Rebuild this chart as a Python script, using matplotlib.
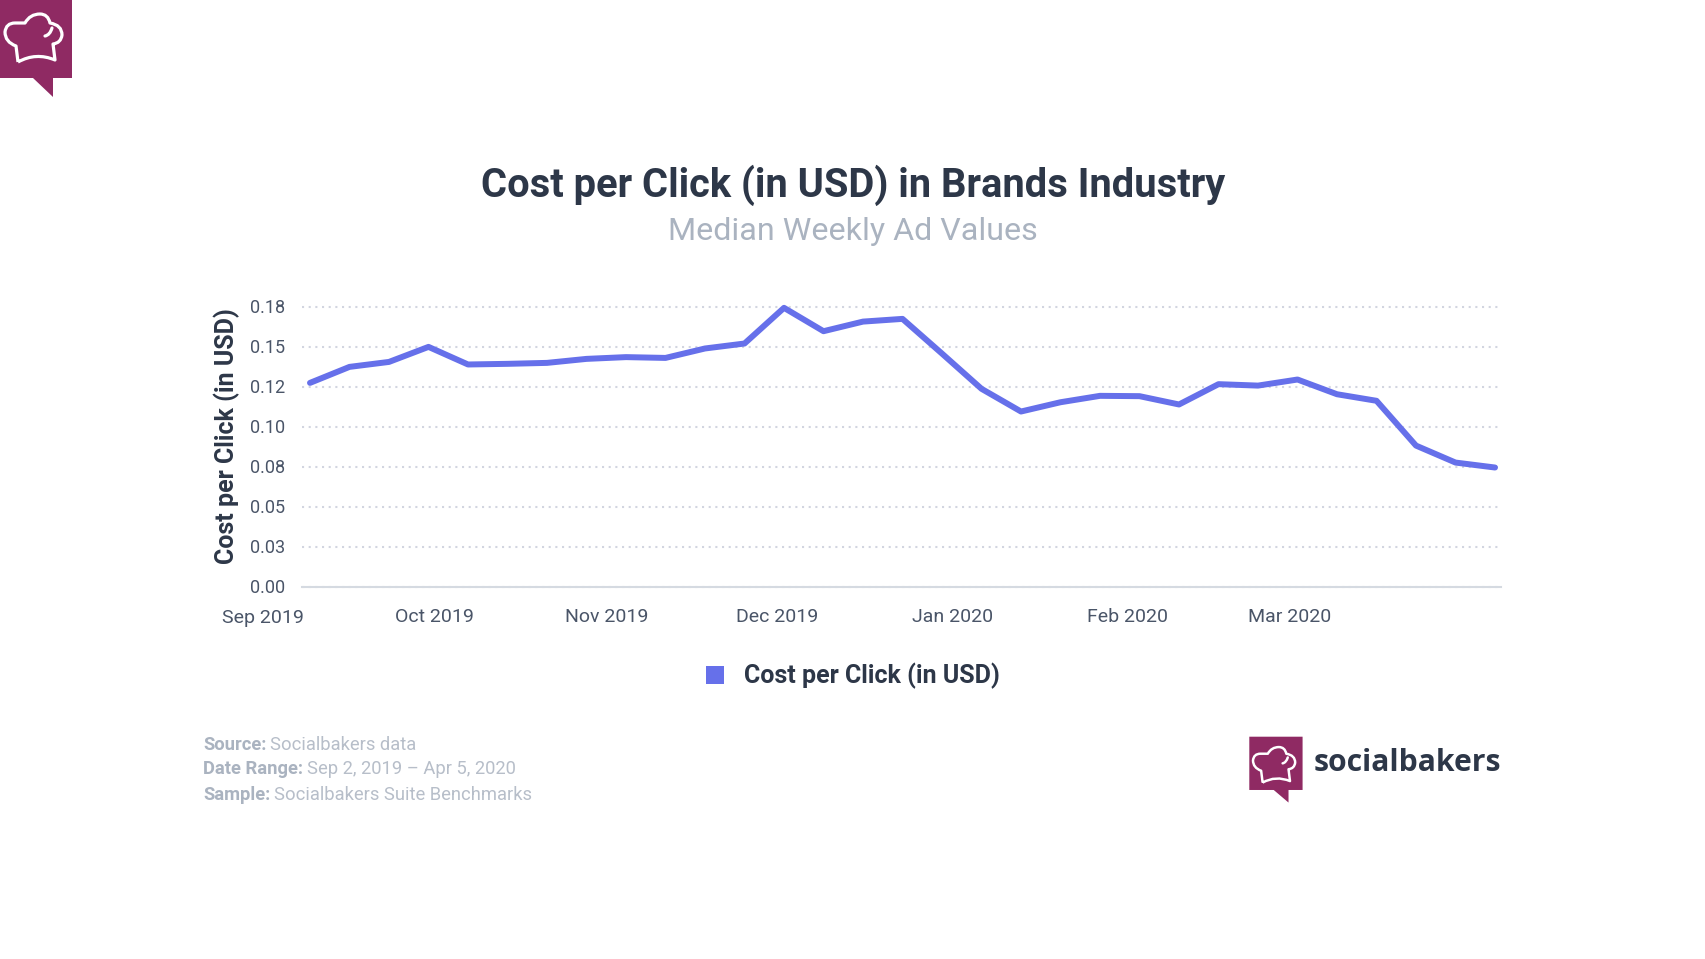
import pandas as pd
import matplotlib
matplotlib.use('Agg')
import matplotlib.pyplot as plt
import matplotlib.dates as mdates
from matplotlib.path import Path
from matplotlib.patches import Patch, PathPatch, Polygon
from matplotlib.transforms import ScaledTranslation

weeks = ['2019-09-02', '2019-09-09', '2019-09-16', '2019-09-23', '2019-09-30', '2019-10-07', '2019-10-14',
         '2019-10-21', '2019-10-28', '2019-11-04', '2019-11-11', '2019-11-18', '2019-11-25', '2019-12-02',
         '2019-12-09', '2019-12-16', '2019-12-23', '2019-12-30', '2020-01-06', '2020-01-13', '2020-01-20',
         '2020-01-27', '2020-02-03', '2020-02-10', '2020-02-17', '2020-02-24', '2020-03-02', '2020-03-09',
         '2020-03-16', '2020-03-23', '2020-03-30']
cpc = [.1277, .1377, .1408, .1502, .1392, .1396, .1402, .1427, .1438, .1433,
       .1492, .1523, .1746, .1600, .1660, .1677, .1460, .1240, .1098, .1156, .1196,
       .1194, .1142, .1269, .1260, .1298, .1206, .1165, .0885, .0779, .0748]
month_starts = ['2019-09-01', '2019-10-01', '2019-11-01', '2019-12-01', '2020-01-01', '2020-02-01', '2020-03-01']
y_ticks = [0, 0.025, 0.05, 0.075, 0.1, 0.125, 0.15, 0.175]
y_labels = ['0.00', '0.03', '0.05', '0.08', '0.10', '0.12', '0.15', '0.18']

W, H = 1706, 959
DARK = '#2d3748'
TICK = '#4a5568'
GREY = '#aab3c0'
BLUE = '#6670ea'
PLUM = '#8f2a63'

plt.rcParams['font.family'] = ['Roboto', 'DejaVu Sans']

fig = plt.figure(figsize=(W / 100, H / 100), dpi=100)


def fx(x):
    return x / W


def fy(y):
    return 1 - y / H


def logo(x0, y0, s, body=78, tip=97):
    # speech bubble with the chef hat, s is relative to the big one
    X = lambda v: fx(x0 + v * s)
    Y = lambda v: fy(y0 + v * s)
    pts = [(0, 0), (72, 0), (72, body), (53, body), (53, tip), (33, body), (0, body)]
    fig.add_artist(Polygon([(X(a), Y(b)) for a, b in pts], closed=True, transform=fig.transFigure,
                           facecolor=PLUM, edgecolor='none'))
    hat = [(Path.MOVETO, (18, 62)), (Path.LINETO, (16, 46)),
           (Path.CURVE3, (5, 42)), (Path.CURVE3, (5, 32)),
           (Path.CURVE3, (6, 23)), (Path.CURVE3, (15, 23)),
           (Path.LINETO, (25, 23)),
           (Path.CURVE3, (30, 14)), (Path.CURVE3, (40, 14)),
           (Path.CURVE3, (48, 14)), (Path.CURVE3, (50, 23)),
           (Path.CURVE3, (62, 25)), (Path.CURVE3, (62, 35)),
           (Path.CURVE3, (61, 43)), (Path.CURVE3, (53, 44)),
           (Path.LINETO, (55, 60)),
           (Path.CURVE3, (36, 52)), (Path.CURVE3, (18, 62))]
    codes = [c for c, _ in hat]
    verts = [(X(a), Y(b)) for _, (a, b) in hat]
    fig.add_artist(PathPatch(Path(verts, codes), transform=fig.transFigure, facecolor='none',
                             edgecolor='white', lw=2.0 * s + 0.3, joinstyle='round'))
    fig.add_artist(PathPatch(Path([(X(45), Y(36)), (X(50), Y(35)), (X(52), Y(28))],
                                  [Path.MOVETO, Path.CURVE3, Path.CURVE3]),
                             transform=fig.transFigure, facecolor='none', edgecolor='white',
                             lw=2.0 * s + 0.3, capstyle='round'))


ax = fig.add_axes([fx(302.5), fy(587.2), fx(1501.5 - 302.5), fy(307.2) - fy(587.2)])
dates = pd.to_datetime(weeks)
ax.plot(dates, cpc, color=BLUE, lw=4.3, solid_capstyle='round', solid_joinstyle='round',
        clip_on=False, zorder=3, label='Cost per Click (in USD)')

ax.set_xlim(dates[0] - pd.Timedelta(days=1.33), dates[-1] + pd.Timedelta(days=1.15))
ax.set_ylim(0, 0.175)
ax.set_yticks(y_ticks, y_labels)
ax.set_xticks(pd.to_datetime(month_starts))
ax.xaxis.set_major_formatter(mdates.DateFormatter('%b %Y'))
ax.tick_params(axis='y', length=0, pad=12.5, labelsize=13, labelcolor=TICK)
ax.tick_params(axis='x', length=0, pad=15.3, labelsize=14, labelcolor=TICK)
for lab in ax.get_xticklabels():
    lab.set_ha('right')
# the first month label sits a pixel lower, the y labels a pixel above their grid lines
first = ax.get_xticklabels()[0]
first.set_transform(first.get_transform() + ScaledTranslation(0, -1 / 100, fig.dpi_scale_trans))
for lab in ax.get_yticklabels():
    lab.set_transform(lab.get_transform() + ScaledTranslation(0, 1.2 / 100, fig.dpi_scale_trans))
ax.yaxis.grid(True, color='#d2d5e0', lw=1.5, linestyle=(0, (1, 2.2)), clip_on=False)
ax.set_axisbelow(True)
for side in ['top', 'left', 'right']:
    ax.spines[side].set_visible(False)
ax.spines['bottom'].set_color('#d5dae1')
ax.spines['bottom'].set_linewidth(1.5)

fig.text(0.5, fy(185), 'Cost per Click (in USD) in Brands Industry', ha='center', va='center',
         fontsize=28.7, fontweight='bold', color=DARK)
fig.text(0.5, fy(231), 'Median Weekly Ad Values', ha='center', va='center', fontsize=23.2, color=GREY)
fig.text(fx(227), fy(436.5), 'Cost per Click (in USD)', rotation=90, ha='center', va='center',
         fontsize=18, fontweight='bold', color=DARK)

handle = Patch(facecolor=BLUE, edgecolor='none', label='Cost per Click (in USD)')
fig.legend(handles=[handle], loc='center', bbox_to_anchor=(fx(853), fy(676)), frameon=False,
           labelcolor=DARK, prop={'weight': 'bold', 'size': 18},
           handlelength=0.75, handleheight=0.75, handletextpad=0.8)

footer = [('Source:', 'Socialbakers data', 744.5), ('Date Range:', 'Sep 2, 2019 \u2013 Apr 5, 2020', 769.5),
          ('Sample:', 'Socialbakers Suite Benchmarks', 794.5)]
for head, rest, y in footer:
    t = fig.text(fx(203), fy(y), head, ha='left', va='center', fontsize=13.2, fontweight='bold', color=GREY)
    ax.annotate(rest, xy=(1, 0.5), xycoords=t, xytext=(2.6, 0), textcoords='offset points',
                ha='left', va='center', fontsize=13.2, color='#b7bec9', annotation_clip=False)

logo(0, 0, 1.0)
logo(1249.3, 736.7, 0.74, body=72, tip=89)
fig.text(fx(1314), fy(763), 'socialbakers', ha='left', va='center', fontsize=21.7, fontweight='bold',
         family='Open Sans', color=DARK)

fig.savefig('out.png', dpi=100)
